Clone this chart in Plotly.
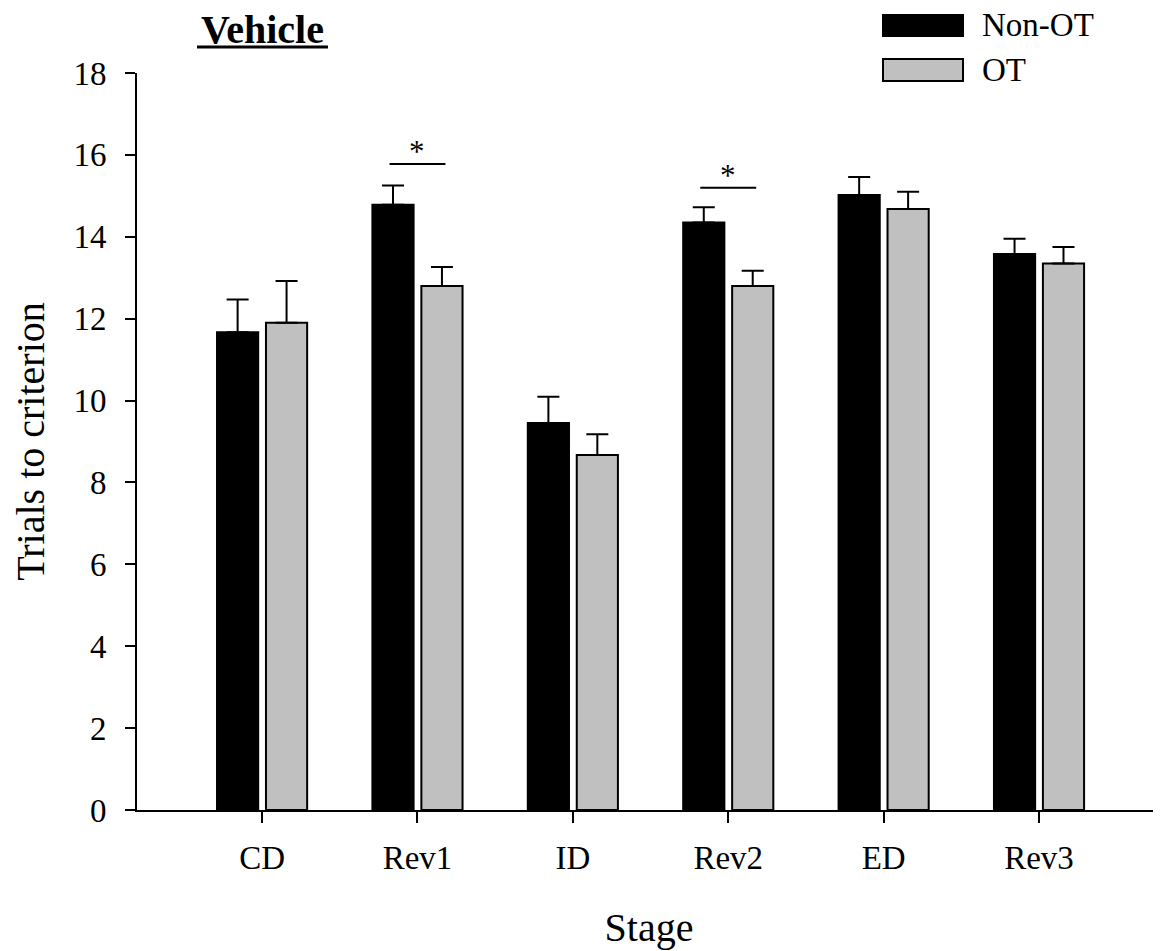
import plotly.graph_objects as go

# ---------------- data ----------------
stages = ["CD", "Rev1", "ID", "Rev2", "ED", "Rev3"]
non_ot = [11.67, 14.78, 9.45, 14.35, 15.02, 13.58]
non_ot_err = [0.80, 0.47, 0.64, 0.37, 0.44, 0.37]
ot = [11.90, 12.80, 8.67, 12.80, 14.68, 13.35]
ot_err = [1.02, 0.46, 0.51, 0.37, 0.42, 0.40]
y_ticks = [0, 2, 4, 6, 8, 10, 12, 14, 16, 18]
sig_stages = ["Rev1", "Rev2"]
sig_heights = [15.78, 15.20]
series_names = ["Non-OT", "OT"]
title_text = "Vehicle"

# ---------------- layout constants ----------------
PAGE = 8  # default body margin of the page
W, H = 1161 - PAGE, 951 - PAGE
ML, MR, MT, MB = 137 - PAGE, 0, 73 - PAGE, 141
PW, PH = W - ML - MR, H - MT - MB
FONT = "Liberation Serif, Times New Roman, serif"


def px(xp):
    # page pixel -> paper x
    return (xp - PAGE - ML) / PW


def py(yp):
    # page pixel -> paper y
    return (H - MB - (yp - PAGE)) / PH


xs = list(range(len(stages)))
BW = 0.265
SHIFT = 0.1575
non_x = [i - SHIFT for i in xs]
ot_x = [i + SHIFT for i in xs]

fig = go.Figure()
fig.add_trace(go.Bar(
    x=non_x, y=non_ot, name=series_names[0],
    width=BW,
    marker=dict(color="black", line=dict(color="black", width=2)),
    error_y=dict(type="data", array=non_ot_err, arrayminus=[0] * len(non_ot),
                 symmetric=False, color="black", thickness=2, width=11),
    showlegend=False,
))
fig.add_trace(go.Bar(
    x=ot_x, y=ot, name=series_names[1],
    width=BW,
    marker=dict(color="#c0c0c0", line=dict(color="black", width=2)),
    error_y=dict(type="data", array=ot_err, arrayminus=[0] * len(ot),
                 symmetric=False, color="black", thickness=2, width=11),
    showlegend=False,
))

# significance bars
for s, h in zip(sig_stages, sig_heights):
    i = stages.index(s)
    fig.add_trace(go.Scatter(
        x=[i - 0.18, i + 0.18], y=[h, h], mode="lines",
        line=dict(color="black", width=2), showlegend=False, hoverinfo="skip",
    ))
    fig.add_annotation(x=i, y=h, xref="x", yref="y", text="*", showarrow=False,
                       yanchor="bottom", yshift=-7,
                       font=dict(family=FONT, size=31, color="black"))

# title
fig.add_annotation(x=px(262), y=py(30), xref="paper", yref="paper",
                   text="<b>" + title_text + "</b>", showarrow=False,
                   xanchor="center", yanchor="middle",
                   font=dict(family=FONT, size=40, color="black"))
fig.add_shape(type="line", xref="paper", yref="paper",
              x0=px(197), x1=px(328), y0=py(47), y1=py(47),
              line=dict(color="black", width=3))

# legend (drawn manually)
leg_boxes = [(15, 36), (59, 81)]
leg_colors = ["black", "#c0c0c0"]
for (t, b), c, name in zip(leg_boxes, leg_colors, series_names):
    fig.add_shape(type="rect", xref="paper", yref="paper",
                  x0=px(883), x1=px(963), y0=py(b), y1=py(t),
                  fillcolor=c, line=dict(color="black", width=2))
    fig.add_annotation(x=px(980), y=py((t + b) / 2), xref="paper", yref="paper",
                       text=name, showarrow=False, xanchor="left", yanchor="middle",
                       font=dict(family=FONT, size=33, color="black"))

fig.update_layout(
    width=W, height=H,
    margin=dict(l=ML, r=MR, t=MT, b=MB, pad=0),
    plot_bgcolor="white", paper_bgcolor="white",
    font=dict(family=FONT, size=33, color="black"),
    barmode="overlay",
    xaxis=dict(
        range=[-0.805, 5.785], tickmode="array", tickvals=xs, ticktext=stages,
        showline=True, linecolor="black", linewidth=2,
        ticks="outside", ticklen=11, tickwidth=2, tickcolor="black",
        showgrid=False, zeroline=False, ticklabelstandoff=6,
        title=dict(text="Stage", font=dict(family=FONT, size=40), standoff=38),
    ),
    yaxis=dict(
        range=[0, 18], tickmode="array", tickvals=y_ticks,
        showline=True, linecolor="black", linewidth=2,
        ticks="outside", ticklen=10, tickwidth=2, tickcolor="black",
        showgrid=False, zeroline=False, ticklabelstandoff=12,
        title=dict(text="Trials to criterion", font=dict(family=FONT, size=40), standoff=29),
    ),
)

fig.write_html("out.html")
